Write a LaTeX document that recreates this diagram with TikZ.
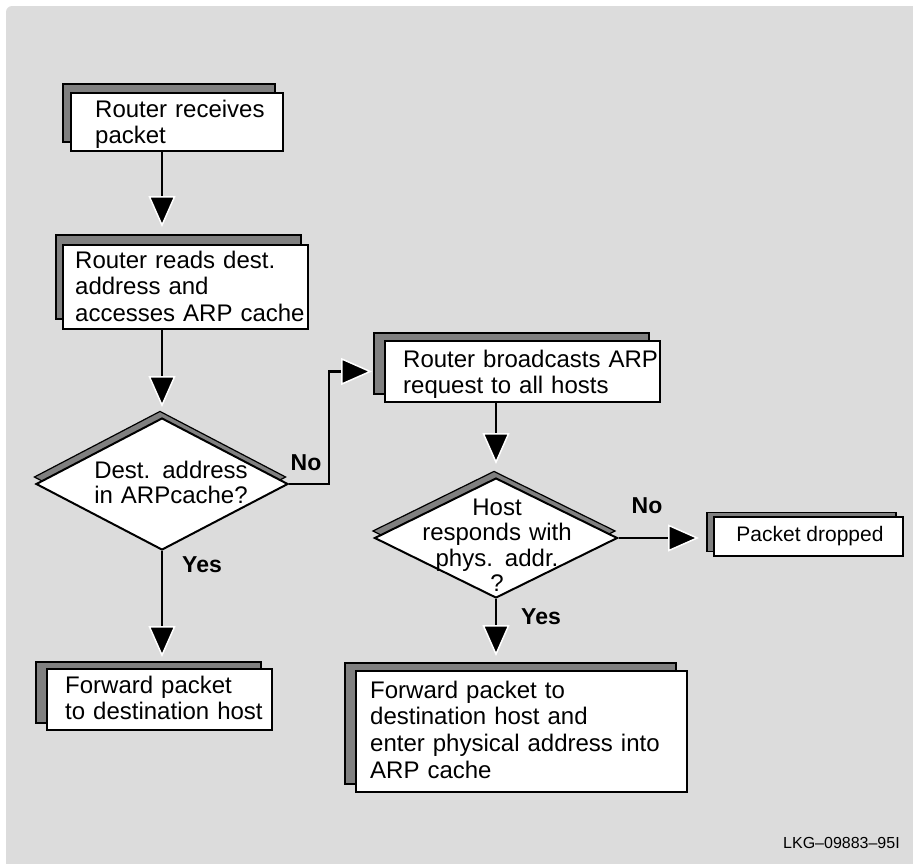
\documentclass[tikz,border=0pt]{standalone}
\usepackage{fontspec}
\setmainfont{Liberation Sans}
\usetikzlibrary{shapes.geometric,shadows,arrows.meta}
\definecolor{panelgray}{RGB}{220,220,220}
\definecolor{shadegray}{RGB}{128,128,128}
\begin{document}
\begin{tikzpicture}[x=1pt,y=-1pt,
  stepbox/.style={rectangle, draw=black, line width=2pt, fill=white, inner sep=0pt},
  decision/.style={diamond, draw=black, line width=2pt, fill=white, inner sep=0pt},
  backdrop/.style 2 args={general shadow={fill=shadegray, draw=black, line width=1.2pt,
      shadow xshift=#1pt, shadow yshift=#2pt}},
  boxtext/.style={anchor=north west, inner sep=0pt, align=left, text width=320pt,
      font=\fontsize{24}{26.7}\selectfont},
  asktext/.style={anchor=north, inner sep=0pt, align=center, text width=190pt,
      font=\fontsize{24}{25.5}\selectfont},
  answer/.style={inner sep=0pt, font=\fontsize{23}{25}\selectfont\bfseries},
  flow/.style={draw=black, line width=2.8pt,
      -{Triangle[length=31pt,width=27pt,fill=black,color=white,line width=1.5pt]}},
]
% page and grey panel
\path[use as bounding box] (0,0) rectangle (913,863);
\fill[panelgray, rounded corners=6pt] (6,6) rectangle (940,890);

% process boxes
\node[stepbox, backdrop={-8}{9}, minimum width=212pt, minimum height=58pt] (b1) at (177,122) {};
\node[boxtext] (t1) at (95,98.3) {\strut Router receives\\packet};

\node[stepbox, backdrop={-7}{10}, minimum width=245pt, minimum height=84pt] (b2) at (185.5,287) {};
\node[boxtext] (t2) at (75,249.3) {\strut Router reads dest.\\address and\\accesses ARP cache};

\node[stepbox, backdrop={-11}{8}, minimum width=275pt, minimum height=61pt] (b3) at (522.5,371.5) {};
\node[boxtext] (t3) at (403,348.3) {\strut Router broadcasts ARP\\request to all hosts};

\node[stepbox, backdrop={-11}{7}, minimum width=225pt, minimum height=61pt] (b4) at (159.5,699.5) {};
\node[boxtext] (t4) at (65,674.3) {\strut Forward packet\\to destination host};

\node[stepbox, backdrop={-11}{8}, minimum width=331pt, minimum height=121pt] (b5) at (521.5,731.5) {};
\node[boxtext] (t5) at (370,679.3) {\strut Forward packet to\\destination host and\\enter physical address into\\ARP cache};

\node[stepbox, backdrop={-7}{4.5}, minimum width=189pt, minimum height=39pt,
      font=\fontsize{21}{24}\selectfont] (pd) at (808.5,536.5) {\hspace*{3pt}Packet dropped};

% decisions
\node[decision, backdrop={-2}{7}, minimum width=252pt, minimum height=132pt] (d1) at (162,484) {};
\node[asktext] (q1) at (171,460.2) {\strut Dest. address\\in ARPcache?};

\node[decision, backdrop={-2}{7}, minimum width=243pt, minimum height=120pt] (d2) at (496,538) {};
\node[asktext] (q2) at (497,497.2) {\strut Host\\responds with\\phys. addr.\\?};

% branch labels
\node[answer] (no1) at (306,463) {No};
\node[answer] (yes1) at (202,565) {Yes};
\node[answer] (no2) at (647,506) {No};
\node[answer] (yes2) at (541,617) {Yes};

% connectors
\draw[flow, shorten >=17pt] (b1.south -| d1.north) -- (b2.north -| d1.north);
\draw[flow, shorten >=10pt] (b2.south -| d1.north) -- (d1.north);
\draw[flow, shorten >=12pt] (d1.east) -- ++(40,0) |- (b3.west);
\draw[flow, shorten >=11pt] (d1.south) -- (d1.south |- b4.north);
\draw[flow, shorten >=13pt] (b3.south -| d2.north) -- (d2.north);
\draw[flow, shorten >=14pt] (d2.south) -- (d2.south |- b5.north);
\draw[flow, shorten >=14pt] (d2.east) -- (pd.west |- d2.east);

% figure code
\node[anchor=base west, inner sep=0pt, font=\fontsize{16}{18}\selectfont] (code) at (783,848) {LKG–09883–95I};
\end{tikzpicture}
\end{document}
